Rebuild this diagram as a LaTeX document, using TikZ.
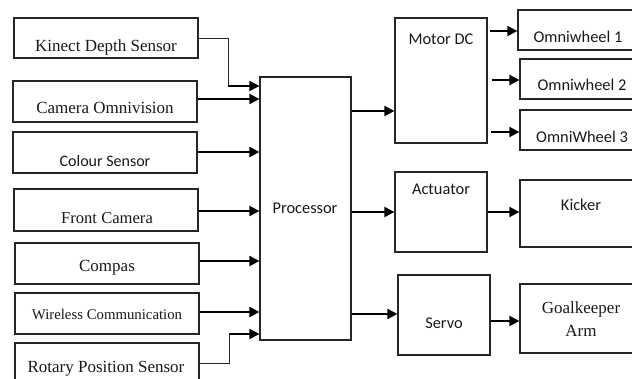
\documentclass[tikz,border=0pt]{standalone}
\usepackage{fontspec}
\setmainfont{Liberation Serif}
\newfontfamily\calfont{Carlito}
\usetikzlibrary{arrows.meta}
\tikzset{
  box/.style={draw=black!85, line width=1.2pt, rectangle, inner sep=0pt},
  arr/.style={draw=black, line width=2pt, -{Triangle[length=10pt,width=10pt]}},
  thin/.style={draw=black!85, line width=1pt},
  serif/.style={anchor=base, text=black!90, font=\fontsize{17}{20}\selectfont},
  sans/.style={anchor=base, text=black!90, font=\calfont\fontsize{16.4}{20}\selectfont},
}
\newcommand{\bx}[5]{\node[box, minimum width=#3pt, minimum height=#4pt] (#1) at (#2) {};}
\begin{document}
\begin{tikzpicture}[x=1pt,y=-1pt]
\useasboundingbox (0,0) rectangle (632,378);
\clip (0,0) rectangle (632,378);
% boxes
\bx{kin}{106,38}{184}{40}{}
\bx{cam}{105,101.5}{184}{41}{}
\bx{col}{105,152.5}{184}{41}{}
\bx{fro}{106,210}{184}{42}{}
\bx{com}{107,263.5}{184}{41}{}
\bx{wir}{107,313.5}{184}{41}{}
\bx{rot}{107,368}{184}{50}{}
\bx{proc}{305.5,208.5}{91}{263}{}
\bx{mot}{441,80.5}{92}{125}{}
\bx{om1}{581.5,30}{127}{40}{}
\bx{om2}{582.5,79}{125}{40}{}
\bx{om3}{582.5,130}{125}{40}{}
\bx{act}{441,212}{92}{80}{}
\bx{kic}{582.5,213.5}{125}{67}{}
\bx{ser}{444,315}{92}{80}{}
\bx{goa}{582.5,318.5}{125}{69}{}
% labels
\node[serif] (tkin) at (106,51) {Kinect Depth Sensor};
\node[serif] (tcam) at (105,113) {Camera Omnivision};
\node[sans, font=\calfont\fontsize{16}{20}\selectfont] (tcol) at (105,166) {Colour Sensor};
\node[serif, font=\fontsize{16.6}{20}\selectfont] (tfro) at (107,223) {Front Camera};
\node[serif] (tcom) at (107,271) {Compas};
\node[serif, font=\fontsize{14.8}{20}\selectfont] (twir) at (107,319) {Wireless Communication};
\node[serif] (trot) at (106,372) {Rotary Position Sensor};
\node[sans] (tproc) at (305,213) {Processor};
\node[sans] (tmot) at (441,44) {Motor DC};
\node[sans] (tom1) at (578,42) {Omniwheel 1};
\node[sans] (tom2) at (582,90) {Omniwheel 2};
\node[sans] (tom3) at (582,142) {OmniWheel 3};
\node[sans] (tact) at (441,194) {Actuator};
\node[sans] (tkic) at (581,210) {Kicker};
\node[sans] (tser) at (444,328) {Servo};
\node[serif] (tgoa) at (581,313) {Goalkeeper};
\node[serif] (tarm) at (581,336) {Arm};
% corner coordinates
\coordinate (ck) at (228,86);
\coordinate (cr) at (229,334);
% connectors into processor
\draw[thin] (kin.east |- 0,38) -| (ck);
\draw[arr] (ck) -- (proc.west |- ck);
\draw[arr] (cam.east |- 0,99) -- (proc.west |- 0,99);
\draw[arr] (col.east |- 0,152) -- (proc.west |- 0,152);
\draw[arr] (fro.east |- 0,211) -- (proc.west |- 0,211);
\draw[arr] (com.east |- 0,261) -- (proc.west |- 0,261);
\draw[arr] (wir.east |- 0,312) -- (proc.west |- 0,312);
\draw[thin] (rot.east |- 0,363) -| (cr);
\draw[arr] (cr) -- (proc.west |- cr);
% outputs
\draw[arr] (proc.east |- 0,111) -- (mot.west |- 0,111);
\draw[arr] ([xshift=2pt]mot.east |- 0,31) -- (om1.west |- 0,31);
\draw[arr] ([xshift=4pt]mot.east |- 0,80) -- (om2.west |- 0,80);
\draw[arr] ([xshift=3pt]mot.east |- 0,132) -- (om3.west |- 0,132);
\draw[arr] (proc.east |- 0,212) -- (act.west |- 0,212);
\draw[arr] (act.east |- 0,212) -- (kic.west |- 0,212);
\draw[arr] (proc.east |- 0,314) -- (ser.west |- 0,314);
\draw[arr] (ser.east |- 0,321) -- (goa.west |- 0,321);
\end{tikzpicture}
\end{document}
